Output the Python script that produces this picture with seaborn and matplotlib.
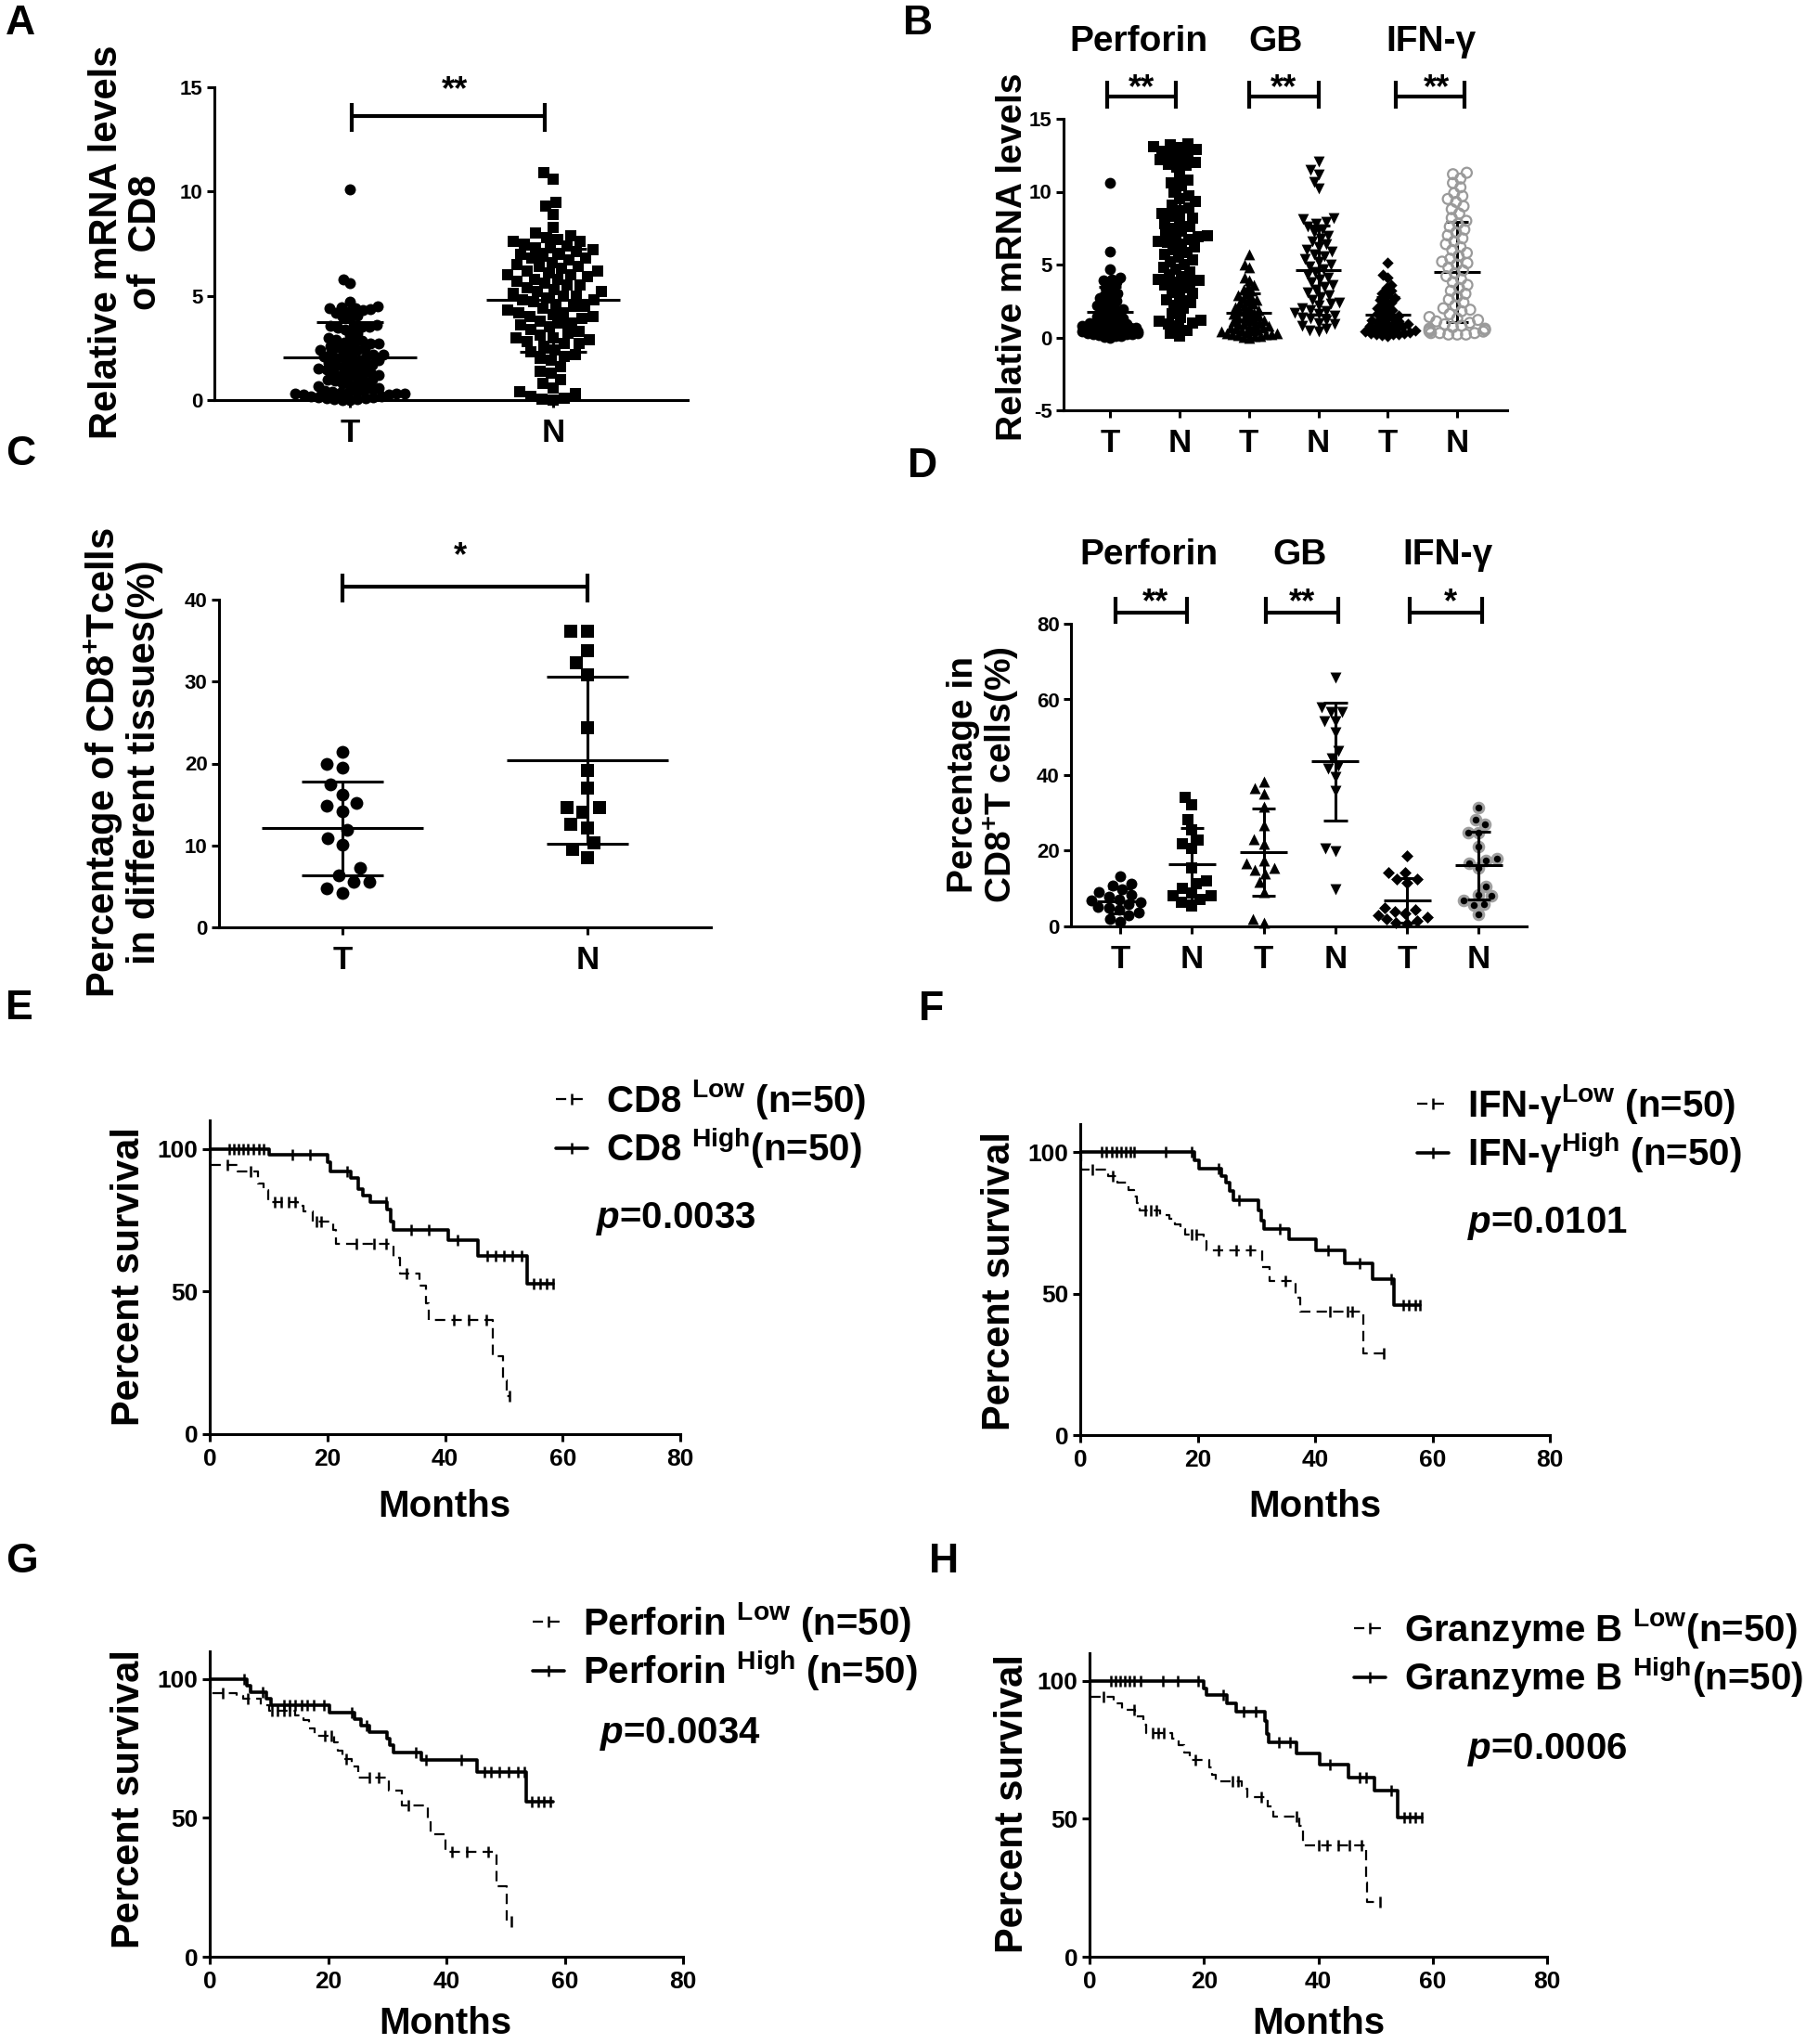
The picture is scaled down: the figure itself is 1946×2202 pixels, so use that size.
import numpy as np
import pandas as pd
import matplotlib
matplotlib.use("Agg")
import matplotlib.pyplot as plt
from matplotlib.lines import Line2D
import seaborn as sns

W, H = 1946, 2202

# ---------------- A: CD8 mRNA, tumour (T) vs normal (N)
cd8_T = [10.1, 5.8, 5.6, 4.7, 4.5, 4.4, 4.45, 4.3, 4.35, 4.2, 4.25, 4.4, 4.0, 4.05, 3.9,
         3.6, 3.5, 3.55, 3.45, 3.5, 3.4, 3.5, 3.2, 3.1, 3.0,
         2.9, 2.85, 2.8, 2.75, 2.7, 2.7, 2.6, 2.55, 2.5, 2.45, 2.4, 2.4, 2.3, 2.25, 2.2, 2.2,
         2.15, 2.1, 2.05, 2.0, 1.95, 1.9, 1.9, 1.8, 1.75, 1.7, 1.65, 1.6, 1.6, 1.5, 1.5, 1.45,
         1.4, 1.35, 1.3, 1.25, 1.2, 1.2, 1.1, 1.05, 1.0, 1.0, 0.95, 0.9,
         0.8, 0.75, 0.7, 0.65, 0.6, 0.6,
         0.45, 0.45, 0.4, 0.4, 0.35, 0.35, 0.3, 0.3, 0.25, 0.25, 0.2, 0.2, 0.15, 0.15,
         0.1, 0.1, 0.05, 0.05, 0.0, 0.0, 0.3]
cd8_N = [10.9, 10.6, 9.5, 9.3, 8.9, 8.3, 8.0, 7.9,
         7.8, 7.7, 7.6, 7.6, 7.5, 7.4, 7.3, 7.3, 7.2, 7.1, 7.0, 7.0,
         6.9, 6.8, 6.8, 6.7, 6.6, 6.5, 6.4, 6.4, 6.3, 6.2, 6.2, 6.1, 6.0, 6.0,
         5.9, 5.8, 5.8, 5.7, 5.6, 5.5, 5.5, 5.4, 5.3, 5.2, 5.2, 5.1, 5.0, 5.0,
         4.9, 4.8, 4.8, 4.7, 4.6, 4.5, 4.5, 4.4, 4.3, 4.2, 4.2, 4.1, 4.0, 4.0,
         3.9, 3.8, 3.7, 3.7, 3.6, 3.5, 3.4, 3.3, 3.2, 3.1, 3.0, 3.0,
         2.9, 2.8, 2.7, 2.7, 2.6, 2.4, 2.3, 2.2, 2.1, 2.0,
         1.9, 1.6, 1.4, 1.3, 1.0, 0.8, 0.6, 0.4, 0.3, 0.2, 0.1, 0.0, 0.05]

# ---------------- B: relative mRNA of effector molecules
b_titles = ["Perforin", "GB", "IFN-γ"]
b_stars = ["**", "**", "**"]
perf_T = [10.6, 5.9, 4.7, 4.1, 4.0, 3.9, 3.8, 3.7, 3.5, 3.4, 3.2, 3.0, 2.9, 2.8, 2.7, 2.6,
          2.5, 2.4, 2.3, 2.2, 2.1, 2.0, 1.95, 1.9, 1.8, 1.7, 1.6, 1.5, 1.45, 1.4, 1.3, 1.25,
          1.2, 1.1, 1.05, 1.0, 0.95, 0.9, 0.9, 0.85, 0.8, 0.8, 0.75, 0.7, 0.7, 0.65, 0.6, 0.6,
          0.55, 0.5, 0.5, 0.45, 0.4, 0.4, 0.35, 0.3, 0.3, 0.25, 0.2, 0.2, 0.15, 0.1, 0.1, 0.05, 0.0]
perf_N = [13.3, 13.2, 13.1, 13.0, 12.9, 12.8, 12.6, 12.5, 12.3, 12.2, 12.0, 11.9, 11.7, 11.8,
          11.1, 10.8, 10.6, 10.4, 10.0, 9.7, 9.5, 9.3, 9.1, 8.9, 8.7, 8.5, 8.3, 8.2, 8.0, 7.8,
          7.6, 7.5, 7.3, 7.1, 7.0, 6.9, 6.8, 6.7, 6.6, 6.5, 6.3, 6.2, 6.0, 5.8, 5.7, 5.5, 5.3,
          5.2, 5.0, 4.8, 4.7, 4.5, 4.3, 4.2, 4.0, 3.9, 3.8, 3.7, 3.6, 3.4, 3.2, 3.0, 2.8, 2.6,
          2.4, 2.2, 2.0, 1.6, 1.4, 1.2, 1.1, 1.0, 0.9, 0.8, 0.5, 0.3, 0.1]
gb_T = [5.7, 5.0, 4.8, 4.1, 3.9, 3.6, 3.5, 3.3, 3.2, 3.0, 2.9, 2.8, 2.7, 2.6, 2.5, 2.4, 2.3,
        2.2, 2.1, 2.0, 1.9, 1.85, 1.8, 1.7, 1.6, 1.55, 1.5, 1.4, 1.35, 1.3, 1.2, 1.15, 1.1,
        1.0, 0.95, 0.9, 0.85, 0.8, 0.75, 0.7, 0.65, 0.6, 0.55, 0.5, 0.45, 0.4, 0.35, 0.3,
        0.25, 0.2, 0.15, 0.1, 0.05, 0.0, 0.1, 0.2, 0.3]
gb_N = [12.1, 11.5, 11.2, 10.7, 10.2, 8.2, 8.1, 7.9, 7.8, 7.6, 7.4, 7.2, 7.0, 6.8, 6.6, 6.4,
        6.2, 6.0, 5.9, 5.7, 5.6, 5.4, 5.2, 5.0, 4.9, 4.7, 4.5, 4.3, 4.1, 4.0, 3.8, 3.6, 3.5,
        3.3, 3.1, 2.9, 2.8, 2.6, 2.4, 2.3, 2.2, 2.0, 1.9, 1.8, 1.7, 1.6, 1.5, 1.4, 1.3, 1.2,
        1.0, 0.9, 0.8, 0.6, 0.5, 0.4]
ifn_T = [5.1, 4.3, 4.1, 3.6, 3.4, 3.2, 3.0, 2.9, 2.7, 2.6, 2.5, 2.4, 2.2, 2.1, 2.0, 1.9, 1.8,
         1.7, 1.6, 1.5, 1.4, 1.35, 1.3, 1.2, 1.1, 1.05, 1.0, 0.95, 0.9, 0.85, 0.8, 0.75, 0.7,
         0.65, 0.6, 0.55, 0.5, 0.45, 0.4, 0.35, 0.3, 0.3, 0.25, 0.2, 0.2, 0.15, 0.1]
ifn_N = [11.3, 11.2, 10.9, 10.6, 10.3, 9.9, 9.7, 9.5, 9.3, 9.0, 8.8, 8.5, 8.2, 8.0, 7.8, 7.6,
         7.4, 7.2, 7.0, 6.8, 6.6, 6.4, 6.2, 6.0, 5.8, 5.6, 5.4, 5.2, 5.1, 5.0, 4.8, 4.6, 4.4,
         4.2, 4.0, 3.8, 3.6, 3.4, 3.2, 3.0, 2.8, 2.6, 2.4, 2.2, 2.0, 1.9, 1.8, 1.6, 1.4, 1.3,
         1.2, 1.1, 1.0, 0.9, 0.8, 0.7, 0.6, 0.6, 0.5, 0.5, 0.4, 0.4, 0.3, 0.3, 0.3, 0.2, 0.2, 0.2]

# ---------------- C: % CD8+ T cells in tissues
c_T = [21.4, 19.9, 19.5, 17.4, 16.2, 15.2, 14.8, 14.2, 11.9, 10.9, 10.1, 7.3, 6.4, 5.6, 5.6, 4.8, 4.2]
c_N = [36.2, 36.2, 33.8, 32.3, 30.8, 24.4, 19.1, 17.0, 14.6, 14.6, 14.0, 12.6, 12.1, 10.3, 9.5, 8.5]

# ---------------- D: % positive among CD8+ T cells
d_titles = ["Perforin", "GB", "IFN-γ"]
d_stars = ["**", "**", "*"]
d_perf_T = [13.3, 11.3, 10.9, 9.8, 9.0, 8.4, 7.8, 7.2, 6.8, 6.3, 5.8, 5.2, 4.8, 4.3, 3.6, 2.9, 2.0, 1.2]
d_perf_N = [34.2, 32.1, 28.1, 25.6, 22.7, 21.9, 20.5, 15.4, 12.1, 11.3, 10.1, 8.8, 8.0, 8.0, 7.2, 6.4, 5.5]
d_gb_T = [38.3, 36.6, 35.0, 31.7, 26.8, 23.1, 21.9, 17.4, 16.6, 15.4, 15.0, 14.0, 11.7, 9.2, 1.9, 1.1]
d_gb_N = [65.7, 57.9, 56.7, 56.7, 54.2, 54.2, 51.4, 46.5, 44.4, 42.4, 41.6, 39.5, 35.8, 20.7, 19.9, 9.8]
d_ifn_T = [18.7, 14.2, 14.2, 12.5, 12.5, 11.5, 5.0, 4.5, 4.0, 3.5, 3.0, 2.5, 2.0, 1.5, 1.0, 0.8]
d_ifn_N = [31.5, 28.2, 27.0, 24.8, 24.8, 21.1, 18.0, 17.4, 16.6, 15.4, 10.5, 8.4, 8.0, 6.8, 6.0, 5.7, 3.3]

# ---------------- E-H: Kaplan-Meier (event times, survival after event, end, censored times)
e_low_t = [0, 0.2, 4.7, 8.2, 9.2, 10.0, 15.0, 16.0, 17.5, 21.0, 21.5, 31.3, 32.3, 35.7, 36.7, 37.2, 48.2, 49.8, 50.5]
e_low_s = [100, 94.5, 92.1, 87.9, 85.5, 81.2, 80.0, 78.2, 74.5, 71.5, 66.7, 61.8, 56.4, 52.1, 46.0, 40.0, 27.3, 18.8, 13.3]
e_low_end = 51.0
e_low_cens = [3.0, 7.0, 11.0, 12.2, 13.4, 14.5, 18.2, 19.0, 25.0, 28.0, 30.0, 33.5, 41.5, 44.0, 47.0, 51.0]
e_high_t = [0, 10.1, 20.0, 20.5, 24.0, 25.2, 26.1, 27.3, 30.2, 30.8, 31.3, 40.6, 45.6, 53.9]
e_high_s = [100, 97.8, 95.2, 92.1, 89.7, 86.0, 83.6, 81.2, 78.8, 74.5, 71.5, 67.9, 62.4, 52.7]
e_high_end = 58.4
e_high_cens = [3.3, 4.1, 4.9, 5.7, 6.5, 7.4, 8.3, 9.2, 14.0, 17.0, 23.4, 30.0, 34.3, 37.2, 42.1,
               47.2, 48.6, 50.0, 51.4, 53.0, 55.0, 56.2, 57.3, 58.4]

f_low_t = [0, 0.2, 4.7, 6.4, 8.2, 9.2, 9.7, 10.1, 13.6, 15.1, 16.1, 17.0, 17.8, 21.0, 21.5, 31.0, 32.3, 36.7, 37.5, 48.3]
f_low_s = [100, 93.8, 91.7, 89.3, 86.8, 84.4, 82.0, 79.5, 77.7, 76.5, 74.7, 72.8, 71.0, 68.6, 65.5, 59.4, 54.6, 48.5, 43.6, 29.0]
f_low_end = 51.7
f_low_cens = [2.0, 5.5, 11.0, 12.0, 13.0, 19.0, 19.8, 23.5, 26.5, 29.0, 35.0, 42.5, 45.5, 46.3, 51.7]
f_high_t = [0, 19.5, 20.2, 24.0, 24.9, 25.4, 26.1, 30.3, 30.8, 31.3, 35.6, 40.2, 45.1, 49.8, 53.5]
f_high_s = [100, 97.2, 94.4, 91.7, 89.3, 86.2, 83.2, 79.5, 75.9, 72.8, 69.2, 65.5, 60.7, 55.2, 46.0]
f_high_end = 57.9
f_high_cens = [3.7, 4.5, 5.3, 6.1, 6.9, 7.7, 8.5, 9.2, 14.6, 19.0, 23.5, 27.0, 34.0, 42.2, 47.6,
               53.0, 55.0, 56.0, 57.0, 57.9]

g_low_t = [0, 0.2, 4.5, 5.6, 8.6, 10.0, 14.4, 15.9, 16.8, 17.8, 21.0, 21.7, 22.4, 24.0, 25.1, 30.2,
           32.4, 36.8, 37.3, 39.9, 48.5, 50.2]
g_low_s = [100, 95.1, 94.0, 92.8, 90.5, 88.7, 87.0, 85.3, 82.4, 79.5, 77.1, 74.2, 71.3, 68.4, 64.4, 59.7,
           54.5, 49.3, 44.1, 37.7, 25.5, 12.8]
g_low_end = 51.0
g_low_cens = [2.2, 6.5, 10.5, 11.5, 12.5, 13.5, 19.5, 20.5, 23.0, 27.0, 28.5, 33.5, 41.0, 43.5, 47.0, 51.0]
g_high_t = [0, 6.3, 6.9, 9.6, 10.3, 20.3, 24.5, 25.5, 27.0, 29.9, 30.4, 31.0, 35.8, 45.1, 53.5]
g_high_s = [100, 97.7, 95.3, 92.9, 90.5, 88.1, 85.7, 83.3, 80.9, 78.5, 76.1, 73.7, 70.8, 66.7, 55.7]
g_high_end = 58.0
g_high_cens = [5.8, 9.0, 12.5, 13.5, 14.5, 15.5, 16.5, 17.5, 19.3, 24.0, 26.5, 34.8, 36.5, 42.5,
               46.5, 47.5, 49.0, 50.5, 52.0, 53.2, 54.5, 55.5, 56.5, 57.5]

h_low_t = [0, 0.2, 4.3, 5.7, 8.0, 9.4, 9.9, 14.4, 15.5, 16.5, 17.5, 21.0, 21.5, 22.0, 26.6, 27.6,
           31.1, 32.1, 36.7, 37.4, 48.3, 48.5]
h_low_s = [100, 94.2, 92.0, 89.5, 87.0, 84.0, 81.0, 79.0, 76.6, 74.0, 71.3, 68.5, 66.0, 63.7, 60.8, 57.9,
           54.4, 50.9, 47.4, 40.4, 27.0, 20.0]
h_low_end = 50.8
h_low_cens = [2.5, 7.8, 11.0, 12.0, 13.0, 18.5, 25.0, 26.0, 30.0, 36.2, 40.0, 41.5, 43.5, 45.5, 47.5, 50.8]
h_high_t = [0, 20.0, 20.5, 24.0, 25.6, 30.6, 31.0, 31.3, 36.2, 40.2, 45.3, 49.8, 53.8]
h_high_s = [100, 97.1, 94.7, 91.8, 88.9, 85.4, 80.7, 77.8, 73.7, 69.6, 64.9, 60.2, 50.3]
h_high_end = 58.1
h_high_cens = [3.8, 4.6, 5.4, 6.2, 7.0, 7.8, 8.9, 12.9, 15.4, 19.0, 23.3, 27.0, 29.0, 33.1, 35.1,
               42.0, 47.3, 48.3, 52.8, 55.0, 56.0, 57.0, 58.1]

# ---------------- style
sns.set_style("ticks")
plt.rcParams["font.family"] = ["Liberation Sans", "DejaVu Sans"]
plt.rcParams["font.weight"] = "bold"
plt.rcParams["mathtext.fontset"] = "custom"
plt.rcParams["mathtext.rm"] = "Liberation Sans:bold"
plt.rcParams["mathtext.bf"] = "Liberation Sans:bold"
plt.rcParams["mathtext.it"] = "Liberation Sans:italic:bold"
plt.rcParams["axes.unicode_minus"] = False
for k in ["axes.edgecolor", "xtick.color", "ytick.color", "text.color", "axes.labelcolor"]:
    plt.rcParams[k] = "black"

LW = 2.2
fig = plt.figure(figsize=(W / 100, H / 100), dpi=100)


def add_ax(x0, x1, ytop, ybot):
    return fig.add_axes([x0 / W, 1 - ybot / H, (x1 - x0) / W, (ybot - ytop) / H])


def put(x, y, s, **kw):
    return fig.text(x / W, 1 - y / H, s, **kw)


def dress(ax, xsize, ysize, xpad, ypad):
    sns.despine(ax=ax)
    for sp in ax.spines.values():
        sp.set_linewidth(LW)
    ax.tick_params(width=LW, length=6, direction="out")
    ax.tick_params(axis="x", labelsize=xsize, pad=xpad)
    ax.tick_params(axis="y", labelsize=ysize, pad=ypad)
    ax.set_xlabel("")
    ax.set_ylabel("")


swarms = []


def swarm_group(ax, pos, vals, marker, layout_pt, final_pt, face="k", edge="k", lw=0.0):
    df = pd.DataFrame({"pos": np.full(len(vals), float(pos)), "val": vals})
    n0 = len(ax.collections)
    sns.swarmplot(data=df, x="pos", y="val", native_scale=True, orient="x", marker=marker,
                  color="k", size=layout_pt, linewidth=0, ax=ax, zorder=3, clip_on=False,
                  warn_thresh=1.0)
    swarms.append((ax.collections[n0], final_pt, face, edge, lw))


def mean_sd(ax, pos, vals, z=4):
    m = np.mean(vals)
    sd = np.std(vals, ddof=1)
    kw = dict(color="k", lw=LW, zorder=z, clip_on=False)
    ax.hlines(m, pos - 0.33, pos + 0.33, **kw)
    ax.vlines(pos, m - sd, m + sd, **kw)
    ax.hlines([m - sd, m + sd], pos - 0.165, pos + 0.165, **kw)


def bracket(ax, x0, x1, y, ylo, yhi):
    kw = dict(color="k", lw=3, clip_on=False, solid_capstyle="butt")
    ax.plot([x0, x1], [y, y], **kw)
    ax.plot([x0, x0], [ylo, yhi], **kw)
    ax.plot([x1, x1], [ylo, yhi], **kw)


# ---------------- A
axA = add_ax(231, 741, 94, 431)
axA.set_xlim(-0.667, 1.662)
axA.set_ylim(0, 15)
for i, (vals, mk, lay, sz) in enumerate([(cd8_T, "o", 5.8, 8.6), (cd8_N, "s", 8.5, 8.0)]):
    swarm_group(axA, i, vals, mk, lay, sz)
    mean_sd(axA, i, vals, z=2)
axA.set_xlim(-0.667, 1.662)
axA.set_ylim(0, 15)
axA.set_xticks([0, 1], ["T", "N"])
axA.set_yticks([0, 5, 10, 15])
dress(axA, 25, 16, 8, 3)
bracket(axA, 0.01, 0.96, 13.6, 12.86, 14.25)
put(490, 107, "**", ha="center", va="baseline", fontsize=26)
put(136, 261, "Relative mRNA levels\nof  CD8", rotation=90, ha="center", va="center",
    ma="center", fontsize=30, linespacing=1.05)

# ---------------- B
axB = add_ax(1146, 1624, 128, 442)
axB.set_xlim(-0.67, 5.72)
axB.set_ylim(-5, 15)
b_sets = [(perf_T, "o", 4.2, 8.5, "k", "k", 0), (perf_N, "s", 7.0, 8.0, "k", "k", 0),
          (gb_T, "^", 4.2, 8.5, "k", "k", 0), (gb_N, "v", 6.5, 8.5, "k", "k", 0),
          (ifn_T, "D", 4.2, 6.3, "k", "k", 0), (ifn_N, "o", 6.5, 7.8, "none", "#9a9a9a", 1.6)]
for i, (vals, mk, lay, sz, fc, ec, lw) in enumerate(b_sets):
    swarm_group(axB, i, vals, mk, lay, sz, fc, ec, lw)
    mean_sd(axB, i, vals, z=2)
axB.set_xlim(-0.67, 5.72)
axB.set_ylim(-5, 15)
axB.set_xticks(range(6), ["T", "N"] * 3)
axB.set_yticks([-5, 0, 5, 10, 15])
dress(axB, 25, 16, 8, 3)
for (x0, x1), xs, title, tx, st in zip([(-0.04, 0.95), (2.0, 3.0), (4.11, 5.11)],
                                       [1230, 1383, 1548], b_titles, [1227, 1375, 1542], b_stars):
    bracket(axB, x0, x1, 16.56, 15.73, 17.58)
    put(xs, 105, st, ha="center", va="baseline", fontsize=26)
    put(tx, 55, title, ha="center", va="baseline", fontsize=28)
put(1091, 277, "Relative mRNA levels", rotation=90, ha="center", va="center", fontsize=28)

# ---------------- C
axC = add_ax(236, 766, 646, 999)
axC.set_xlim(-0.504, 1.504)
axC.set_ylim(0, 40)
swarm_group(axC, 0, c_T, "o", 12.0, 10.0)
swarm_group(axC, 1, c_N, "s", 12.5, 9.5)
mean_sd(axC, 0, c_T)
mean_sd(axC, 1, c_N)
axC.set_xlim(-0.504, 1.504)
axC.set_ylim(0, 40)
axC.set_xticks([0, 1], ["T", "N"])
axC.set_yticks([0, 10, 20, 30, 40])
dress(axC, 25, 16, 8, 3)
bracket(axC, 0, 1, 41.6, 39.7, 43.2)
put(496, 609, "*", ha="center", va="baseline", fontsize=26)
put(132, 821, "Percentage of CD8$^{+}$Tcells\nin different tissues(%)", rotation=90,
    ha="center", va="center", ma="center", fontsize=30, linespacing=1.05)

# ---------------- D
axD = add_ax(1154, 1645, 672, 998)
axD.set_xlim(-0.687, 5.67)
axD.set_ylim(0, 80)
d_sets = [(d_perf_T, "o", 8.6, "k", "k", 0), (d_perf_N, "s", 8.6, "k", "k", 0),
          (d_gb_T, "^", 8.6, "k", "k", 0), (d_gb_N, "v", 8.6, "k", "k", 0),
          (d_ifn_T, "D", 6.6, "k", "k", 0), (d_ifn_N, "o", 7.6, "k", "#a0a0a0", 2.2)]
for i, (vals, mk, sz, fc, ec, lw) in enumerate(d_sets):
    swarm_group(axD, i, vals, mk, 8.0, sz, fc, ec, lw)
    mean_sd(axD, i, vals)
axD.set_xlim(-0.687, 5.67)
axD.set_ylim(0, 80)
axD.set_xticks(range(6), ["T", "N"] * 3)
axD.set_yticks([0, 20, 40, 60, 80])
dress(axD, 25, 16, 8, 3)
for (x0, x1), xs, title, tx, st in zip([(-0.06, 0.93), (2.03, 3.04), (4.04, 5.05)],
                                       [1245, 1403, 1563], d_titles, [1238, 1401, 1560], d_stars):
    bracket(axD, x0, x1, 82.9, 80.0, 87.1)
    put(xs, 659, st, ha="center", va="baseline", fontsize=26)
    put(tx, 608, title, ha="center", va="baseline", fontsize=28)
put(1060, 835, "Percentage in\nCD8$^{+}$T cells(%)", rotation=90, ha="center", va="center",
    ma="center", fontsize=28, linespacing=1.05)


# ---------------- E-H: survival
def km_curve(ax, t, s, end, cens, lw, ls):
    xs = np.array(t + [end], dtype=float)
    ys = np.array(s + [s[-1]], dtype=float)
    sns.lineplot(x=xs, y=ys, ax=ax, color="k", lw=lw, linestyle=ls, drawstyle="steps-post",
                 estimator=None, errorbar=None, sort=False)
    idx = np.searchsorted(xs[:-1], cens, side="right") - 1
    ax.plot(cens, ys[idx], ls="none", marker="|", ms=9, mew=1.8, color="k")


DASH = (0, (5, 3))


def km_panel(box, low, high, labels, leg_xy, ptxt, p_xy, ylab_xy, months_xy):
    ax = add_ax(*box)
    km_curve(ax, *low, lw=1.6, ls=DASH)
    km_curve(ax, *high, lw=2.6, ls="-")
    ax.set_xlim(0, 80)
    ax.set_ylim(0, 110)
    ax.set_xticks([0, 20, 40, 60, 80])
    ax.set_yticks([0, 50, 100])
    dress(ax, 19, 19, 5, 3)
    hl = Line2D([], [], color="k", lw=1.6, ls=DASH, marker="|", ms=9, mew=1.8)
    hh = Line2D([], [], color="k", lw=2.6, marker="|", ms=9, mew=1.8)
    ax.legend([hl, hh], labels, loc="upper left",
              bbox_to_anchor=(leg_xy[0] / W, 1 - leg_xy[1] / H), bbox_transform=fig.transFigure,
              frameon=False, fontsize=29, handlelength=0.85, handletextpad=0.5,
              labelspacing=0.12, borderpad=0, borderaxespad=0)
    put(p_xy[0], p_xy[1], ptxt, ha="left", va="center", fontsize=29)
    put(ylab_xy[0], ylab_xy[1], "Percent survival", rotation=90, ha="center", va="center", fontsize=30)
    put(months_xy[0], months_xy[1], "Months", ha="center", va="center", fontsize=29)
    return ax


km_panel((226, 733, 1207, 1545),
         (e_low_t, e_low_s, e_low_end, e_low_cens), (e_high_t, e_high_s, e_high_end, e_high_cens),
         ["CD8 $^{\\mathrm{Low}}$ (n=50)", "CD8 $^{\\mathrm{High}}$(n=50)"],
         (599, 1161), "$p$=0.0033", (642, 1313), (139, 1375), (479, 1623))
km_panel((1164, 1670, 1211, 1546),
         (f_low_t, f_low_s, f_low_end, f_low_cens), (f_high_t, f_high_s, f_high_end, f_high_cens),
         ["IFN-γ$^{\\mathrm{Low}}$ (n=50)", "IFN-γ$^{\\mathrm{High}}$ (n=50)"],
         (1527, 1166), "$p$=0.0101", (1581, 1318), (1077, 1380), (1417, 1623))
km_panel((226, 736, 1779, 2108),
         (g_low_t, g_low_s, g_low_end, g_low_cens), (g_high_t, g_high_s, g_high_end, g_high_cens),
         ["Perforin $^{\\mathrm{Low}}$ (n=50)", "Perforin $^{\\mathrm{High}}$ (n=50)"],
         (574, 1724), "$p$=0.0034", (646, 1868), (139, 1938), (480, 2180))
km_panel((1174, 1667, 1781, 2108),
         (h_low_t, h_low_s, h_low_end, h_low_cens), (h_high_t, h_high_s, h_high_end, h_high_cens),
         ["Granzyme B $^{\\mathrm{Low}}$(n=50)", "Granzyme B $^{\\mathrm{High}}$(n=50)"],
         (1459, 1731), "$p$=0.0006", (1581, 1885), (1091, 1943), (1421, 2180))

# ---------------- panel letters
for letter, x, y in [("A", 6, 5), ("B", 973, 5), ("C", 6, 469), ("D", 978, 482),
                     ("E", 6, 1066), ("F", 990, 1067), ("G", 6, 1662), ("H", 1001, 1662)]:
    put(x, y, letter, ha="left", va="top", fontsize=32)

# swarm layout is computed with small markers, then markers are enlarged (Prism-like overlap)
fig.canvas.draw()
for coll, pt, fc, ec, lw in swarms:
    coll.__dict__.pop("draw", None)
    coll.set_sizes([pt ** 2])
    coll.set_facecolor(fc)
    coll.set_edgecolor(ec)
    coll.set_linewidth(lw)

fig.savefig("out.png", dpi=100)
